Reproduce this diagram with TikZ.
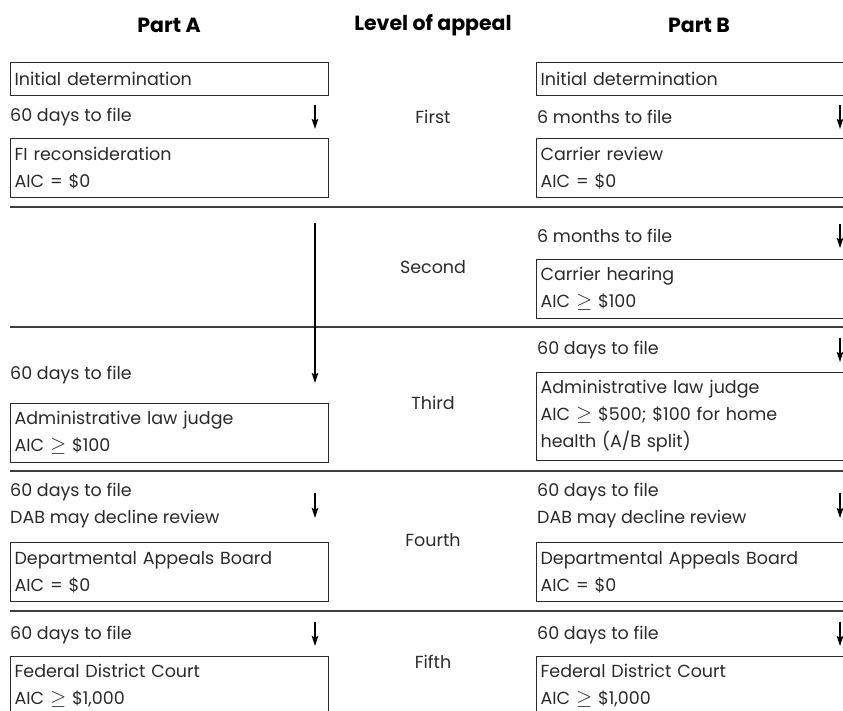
\documentclass[tikz,border=0pt]{standalone}
\usepackage{fontspec}
\setmainfont{Poppins}
\usetikzlibrary{arrows.meta}
\definecolor{ink}{HTML}{2A2A2A}
\newcommand{\gesym}{{\fontsize{20}{20}\selectfont$\geq$}}
\tikzset{
  txt/.style={inner sep=0pt, text=ink, font=\fontsize{17.5}{27}\selectfont},
  lbl/.style={txt, anchor=west, align=left},
  lvl/.style={txt, anchor=center},
  hdr/.style={inner sep=0pt, text=black, font=\bfseries\fontsize{20.5}{24}\selectfont, anchor=center},
  box/.style={draw=ink, line width=1.2pt, anchor=north west, align=left, inner xsep=4pt, inner ysep=0pt,
              text=ink, font=\fontsize{17.5}{27}\selectfont, minimum height=59pt},
  lbox/.style={box, text width=310pt},
  rbox/.style={box, text width=330pt},
  sep/.style={draw=black!75, line width=1.4pt},
  arr/.style={draw=black, line width=1.1pt, -{Stealth[length=10pt,width=6.5pt,inset=1.5pt]}},
}
\begin{document}
\begin{tikzpicture}[x=1pt,y=-1pt]
\useasboundingbox (0,0) rectangle (843,710);
\clip (0,0) rectangle (843,710);
% headers
\node[hdr] (hA) at (169,25) {Part A};
\node[hdr] (hL) at (433,25) {Level of appeal};
\node[hdr] (hB) at (699,25) {Part B};
% separators
\coordinate (s1l) at (10,207); \coordinate (s1r) at (843,207);
\coordinate (s2l) at (10,327); \coordinate (s2r) at (843,327);
\coordinate (s3l) at (10,471); \coordinate (s3r) at (843,471);
\coordinate (s4l) at (10,611); \coordinate (s4r) at (843,611);
\draw[sep] (s1l) -- (s1r);
\draw[sep] (s2l) -- (s2r);
\draw[sep] (s3l) -- (s3r);
\draw[sep] (s4l) -- (s4r);
% level names
\node[lvl] (l1) at (433,117) {First};
\node[lvl] (l2) at (433,267) {Second};
\node[lvl] (l3) at (433,403) {Third};
\node[lvl] (l4) at (433,540) {Fourth};
\node[lvl] (l5) at (433,662) {Fifth};
% ---------- Part A ----------
\node[lbox, minimum height=33pt] (a0) at (10,62) {Initial determination};
\node[lbl] (a1t) at (10,117) {60 days to file};
\node[lbox] (a1) at (10,138) {FI reconsideration\\AIC = \$0};
\node[lbl] (a3t) at (10,375) {60 days to file};
\node[lbox] (a3) at (10,403) {Administrative law judge\\AIC \gesym{} \$100};
\node[lbl] (a4t) at (10,506) {60 days to file\\DAB may decline review};
\node[lbox] (a4) at (10,542) {Departmental Appeals Board\\AIC = \$0};
\node[lbl] (a5t) at (10,635) {60 days to file};
\node[lbox] (a5) at (10,656) {Federal District Court\\AIC \gesym{} \$1,000};
% Part A arrows
\coordinate (aa1s) at (315,105); \coordinate (aa1e) at (315,129);
\coordinate (aa2s) at (315,223); \coordinate (aa2e) at (315,383);
\coordinate (aa4s) at (315,493); \coordinate (aa4e) at (315,518);
\coordinate (aa5s) at (315,622); \coordinate (aa5e) at (315,646);
\draw[arr] (aa1s) -- (aa1e);
\draw[arr] (aa2s) -- (aa2e);
\draw[arr] (aa4s) -- (aa4e);
\draw[arr] (aa5s) -- (aa5e);
% ---------- Part B ----------
\node[rbox, minimum height=33pt] (b0) at (536,62) {Initial determination};
\node[lbl] (b1t) at (537,117) {6 months to file};
\node[rbox] (b1) at (536,138) {Carrier review\\AIC = \$0};
\node[lbl] (b2t) at (537,236) {6 months to file};
\node[rbox] (b2) at (536,259) {Carrier hearing\\AIC \gesym{} \$100};
\node[lbl] (b3t) at (537,350) {60 days to file};
\node[rbox, minimum height=88pt] (b3) at (536,372) {Administrative law judge\\AIC \gesym{} \$500; \$100 for home\\health (A/B split)};
\node[lbl] (b4t) at (537,506) {60 days to file\\DAB may decline review};
\node[rbox] (b4) at (536,542) {Departmental Appeals Board\\AIC = \$0};
\node[lbl] (b5t) at (537,635) {60 days to file};
\node[rbox] (b5) at (536,656) {Federal District Court\\AIC \gesym{} \$1,000};
% Part B arrows
\coordinate (ba1s) at (840,105); \coordinate (ba1e) at (840,129);
\coordinate (ba2s) at (840,224); \coordinate (ba2e) at (840,248);
\coordinate (ba3s) at (840,338); \coordinate (ba3e) at (840,362);
\coordinate (ba4s) at (840,493); \coordinate (ba4e) at (840,518);
\coordinate (ba5s) at (840,622); \coordinate (ba5e) at (840,646);
\draw[arr] (ba1s) -- (ba1e);
\draw[arr] (ba2s) -- (ba2e);
\draw[arr] (ba3s) -- (ba3e);
\draw[arr] (ba4s) -- (ba4e);
\draw[arr] (ba5s) -- (ba5e);
\end{tikzpicture}
\end{document}
